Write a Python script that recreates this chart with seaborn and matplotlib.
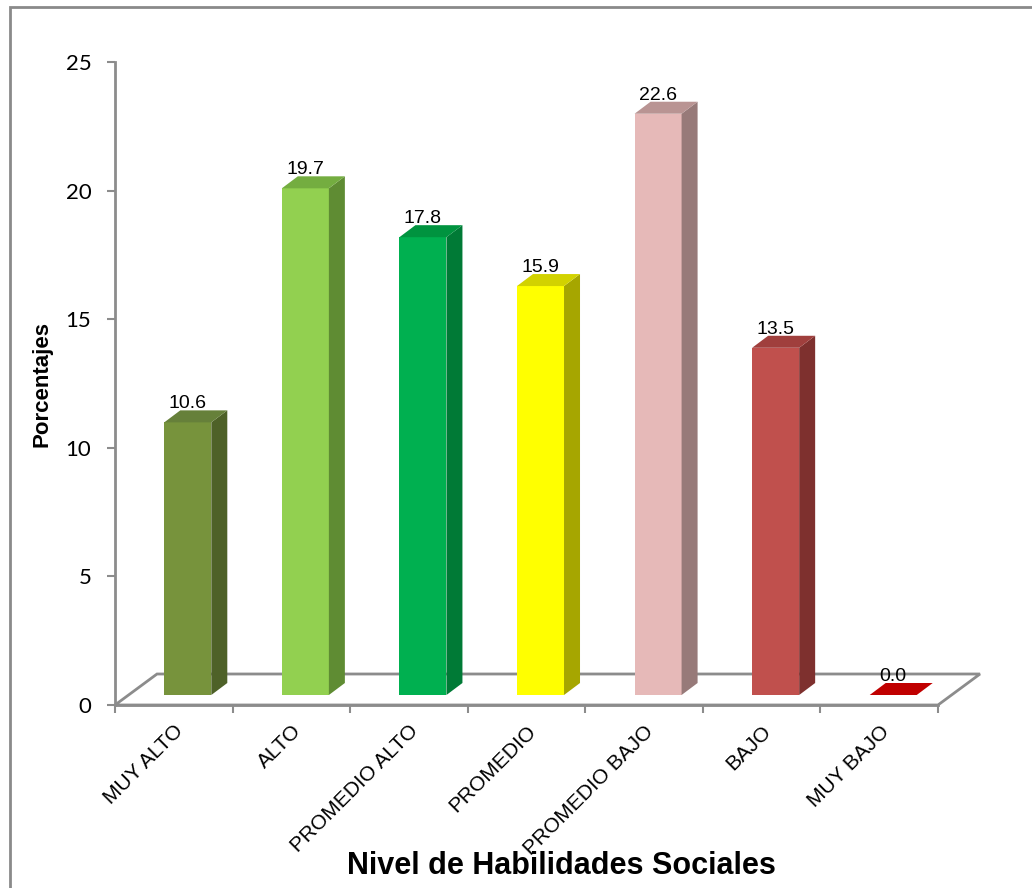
import matplotlib
matplotlib.use("Agg")
import matplotlib.pyplot as plt
from matplotlib.patches import Polygon, Rectangle
from matplotlib.transforms import Affine2D
import seaborn as sns

# Distribution of social-skill levels (percent of students)
categorias = ["MUY ALTO", "ALTO", "PROMEDIO ALTO", "PROMEDIO",
              "PROMEDIO BAJO", "BAJO", "MUY BAJO"]
porcentajes = [10.6, 19.7, 17.8, 15.9, 22.6, 13.5, 0.0]
y_ticks = [0, 5, 10, 15, 20, 25]

# Face colours for the pseudo-3D columns
color_frente = ["#77933C", "#92D050", "#00B050", "#FFFF00", "#E6B9B8", "#C0504D", "#C00000"]
color_lado = ["#4E6128", "#5F8C33", "#007A36", "#A6A600", "#977A79", "#7E302E", "#8A0000"]
color_tapa = ["#66803A", "#74AD40", "#00933F", "#D2D200", "#B99493", "#A03F3D", "#C00000"]

W, H = 1032, 888
sns.set_theme(style="white")
plt.rcParams["font.family"] = ["Liberation Sans", "DejaVu Sans"]
plt.rcParams.update({"text.color": "black", "axes.labelcolor": "black",
                     "xtick.color": "black", "ytick.color": "black"})

fig = plt.figure(figsize=(W / 100, H / 100), dpi=100)
ax_l, ax_r, ax_t, ax_b = 115, 938, 62, 705
ax = fig.add_axes([ax_l / W, (H - ax_b) / H, (ax_r - ax_l) / W, (ax_b - ax_t) / H])

sns.barplot(x=categorias, y=porcentajes, hue=categorias, palette=color_frente,
            width=0.4, saturation=1, legend=False, linewidth=0, ax=ax, zorder=3)
ax.set_xlim(-0.5, len(categorias) - 0.5)
ax.set_ylim(0, 25)

# pixel -> data conversion for the oblique projection
px_cat = (ax_r - ax_l) / len(categorias)
px_unit = (ax_b - ax_t) / 25.0
gris = "#8C8C8C"

bars = sorted(list(ax.patches), key=lambda b: b.get_x())

# floor of the 3D plot area
fx, fy = 42 / px_cat, 31 / px_unit
x0, x1 = -0.5, len(categorias) - 0.5
floor = Polygon([(x0, 0), (x1, 0), (x1 + fx, fy), (x0 + fx, fy)], closed=True,
                facecolor="white", edgecolor=gris, lw=2, zorder=1, clip_on=False)
ax.add_patch(floor)

# columns sit one third into the depth of the floor
shift = ax.transData + Affine2D().translate(14, 10)
dx, dy = 16 / px_cat, 12 / px_unit
for i, bar in enumerate(bars):
    bar.set_transform(shift)
    bar.set_clip_on(False)
    bx, bw, bh = bar.get_x(), bar.get_width(), bar.get_height()
    side = Polygon([(bx + bw, 0), (bx + bw, bh), (bx + bw + dx, bh + dy), (bx + bw + dx, dy)],
                   closed=True, facecolor=color_lado[i], edgecolor="none",
                   transform=shift, zorder=3, clip_on=False)
    top = Polygon([(bx, bh), (bx + bw, bh), (bx + bw + dx, bh + dy), (bx + dx, bh + dy)],
                  closed=True, facecolor=color_tapa[i], edgecolor="none",
                  transform=shift, zorder=3, clip_on=False)
    ax.add_patch(side)
    ax.add_patch(top)
    ax.text(bx + bw / 2, bh, f"{porcentajes[i]:.1f}", ha="center", va="baseline",
            fontsize=14, color="black", zorder=5, clip_on=False,
            transform=ax.transData + Affine2D().translate(14, 24))

# axes styling
for s in ["top", "right"]:
    ax.spines[s].set_visible(False)
for s in ["left", "bottom"]:
    ax.spines[s].set_color(gris)
    ax.spines[s].set_linewidth(2)
    ax.spines[s].set_zorder(2)

ax.set_yticks(y_ticks)
ax.set_yticklabels([str(t) for t in y_ticks], fontsize=16, family=["Lato", "DejaVu Sans"])
ax.tick_params(axis="y", direction="out", length=6, width=1.5, color=gris,
               labelcolor="black", pad=11, left=True)

ax.set_xticks(range(len(categorias)))
ax.set_xticks([i - 0.5 for i in range(len(categorias) + 1)], minor=True)
ax.set_xticklabels(categorias, fontsize=15)
ax.tick_params(axis="x", which="major", length=0, pad=12, labelcolor="black")
ax.tick_params(axis="x", which="minor", direction="out", length=6, width=1.5, color=gris, bottom=True)
for lab in ax.get_xticklabels():
    lab.set_rotation(45)
    lab.set_ha("right")
    lab.set_rotation_mode("anchor")

ax.set_xlabel("")
ax.set_ylabel("Porcentajes", fontsize=16, fontweight="bold")
ax.yaxis.set_label_coords((53 - ax_l) / (ax_r - ax_l), 0.5)

fig.text(561 / W, 1 - 866 / H, "Nivel de Habilidades Sociales", ha="center", va="center",
         fontsize=22, fontweight="bold")

# outer chart frame
fig.add_artist(Rectangle((10 / W, -0.1), 1.2, 1.1 - 7 / H, transform=fig.transFigure,
                         fill=False, edgecolor="#8A8A8A", lw=2))

fig.savefig("out.png", dpi=100, facecolor="white")
